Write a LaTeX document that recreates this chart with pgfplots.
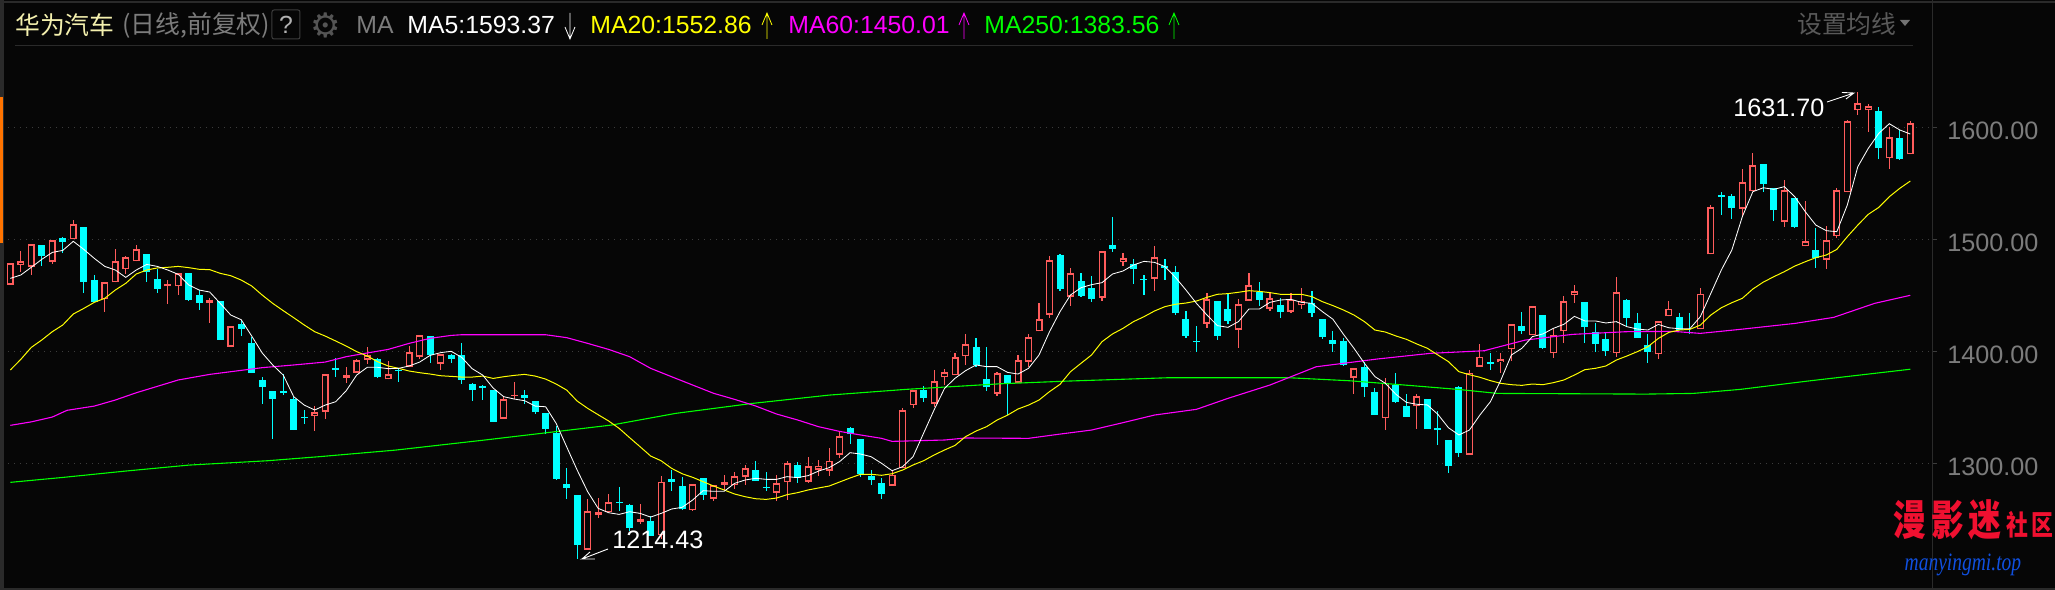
\documentclass[border=0pt]{standalone}
\usepackage{fontspec}
\usepackage{pgfplots}
\usepackage{pgfplotstable}
\pgfplotsset{compat=1.18}
\setmainfont{Liberation Sans}
\newfontfamily\cjk{Noto Sans CJK SC}
\newfontfamily\dejavu{DejaVu Sans}
\newfontfamily\wmserif{Liberation Serif}

\definecolor{bg}{HTML}{060606}
\definecolor{upc}{HTML}{FF5C5C}
\definecolor{dnc}{HTML}{00FFFF}
\definecolor{frame}{HTML}{2A2A2A}
\definecolor{gridc}{HTML}{3C3C3C}
\definecolor{labc}{HTML}{7C7C7C}
\definecolor{ma5}{HTML}{FFFFFF}
\definecolor{ma20}{HTML}{FFFF00}
\definecolor{ma60}{HTML}{FF00FF}
\definecolor{ma250}{HTML}{00FF00}
\definecolor{wmred}{HTML}{F01030}
\definecolor{wmblue}{HTML}{1050E0}

% x hi top bot lo
\pgfplotstableread{
x hi top bot lo
0 1478.5 1478.5 1459.5 1459.5
1 1489.5 1480.3 1477.3 1470.5
2 1495.5 1495.5 1475.5 1468.4
4 1499.1 1499.1 1480 1477.9
6 1517.2 1513.3 1500 1500
9 1461.6 1461.6 1446.4 1435.1
10 1491.3 1480.3 1461.6 1461.6
11 1485.1 1483.9 1473.2 1468.7
12 1494.9 1491 1480.3 1480.3
15 1463.6 1459.8 1458 1442.2
16 1469.6 1469.6 1458 1450.2
19 1447.3 1445.5 1443.4 1425.2
21 1422.3 1422.3 1404.1 1404.1
29 1351.1 1345.5 1342.5 1328.8
30 1379.4 1379.4 1346.1 1339.5
32 1386 1378.5 1376.4 1371.7
33 1392.8 1391.9 1380.9 1380.9
34 1403.8 1396.4 1392.5 1388.9
36 1391 1379.4 1375 1375
38 1404.4 1399.1 1386.3 1386.3
39 1414.2 1414.2 1395.2 1393.4
41 1397.3 1397.3 1388.9 1383.3
47 1359.5 1357.1 1339.8 1339.8
48 1372.6 1360.7 1360.1 1357.1
55 1268.1 1257.1 1222.9 1222.9
56 1269 1256.2 1254.1 1251.1
57 1272.6 1265.1 1256.5 1256.5
60 1263.6 1250 1247.9 1245.8
62 1288.7 1283.3 1236 1232
65 1281.2 1281.2 1258.3 1257.4
67 1280.3 1280.3 1268.4 1266.6
68 1289.5 1283 1280.9 1276.2
69 1292.2 1288.4 1280.6 1277
70 1298.2 1295.5 1288.1 1280.9
73 1289.5 1282.1 1273.8 1266.3
74 1302 1300 1283 1267.2
76 1305.6 1297.3 1283.6 1282.7
77 1302.9 1297.9 1294.3 1288.7
78 1313.4 1302.3 1293.4 1289
79 1328.2 1324.1 1307.7 1304.7
84 1294 1289.5 1280 1280
85 1349.4 1347.3 1295.5 1295.5
86 1365.1 1365.1 1352 1349.4
88 1383.3 1373.2 1353.2 1350.3
89 1384.2 1381.2 1376.8 1369.9
90 1398.2 1394.6 1378.5 1378.5
91 1415.4 1406.2 1395.5 1388.1
94 1381.5 1380.3 1362.2 1360.1
96 1396.7 1391.9 1372 1372
97 1415.5 1412.5 1390.8 1386.3
98 1443.1 1428.6 1417.8 1417.8
99 1485.1 1481.2 1432.7 1430
101 1474.1 1469.6 1448.8 1440.5
104 1489.3 1489.3 1447.9 1444.9
106 1487.8 1483 1480 1476.2
109 1494 1483.9 1464.9 1453.8
114 1451.8 1446.4 1424.7 1420.8
117 1446.7 1441.9 1419.3 1403
118 1469.9 1458.9 1445.2 1445.2
120 1453 1447.3 1438.1 1436
122 1451.8 1445.8 1435.4 1434.5
123 1456.5 1445.2 1441.1 1437.8
128 1384.8 1384.8 1376.5 1361.9
131 1376.2 1372 1340.2 1329.7
134 1361.9 1359.8 1350.9 1330.6
139 1383.3 1380.9 1307.7 1307.7
140 1406.5 1395.2 1386.3 1386.3
142 1398.5 1392.8 1390.2 1380.6
143 1424.1 1424.1 1401.8 1391.3
145 1440.2 1440.2 1414.3 1414.3
147 1419.6 1414.3 1398.2 1394
148 1449.4 1444.6 1417.8 1407.4
149 1459.2 1453.6 1450 1443.1
153 1466.3 1452.7 1398.2 1394.9
157 1426.7 1426.7 1397.3 1392.8
158 1444.9 1438 1431.2 1431.2
161 1456.5 1451.4 1419.6 1419.6
162 1530.6 1528.5 1486.5 1486.5
165 1562.7 1550.8 1527.3 1520.5
166 1577 1566 1542.8 1542.8
169 1552.9 1543.7 1515.7 1510.9
171 1534.2 1498.2 1493.7 1493.7
173 1511.8 1499 1481.8 1473.4
174 1545.5 1543.7 1502.9 1501.1
175 1606.5 1605.3 1541.9 1541.9
176 1631.5 1621.4 1615.1 1610.9
177 1620.8 1618.7 1615.1 1595.8
179 1599.9 1591 1572.3 1562.7
181 1605.3 1603.5 1575.8 1575.8
}\uptable

\pgfplotstableread{
x hi top bot lo
3 1494.9 1494.9 1485.1 1476.4
5 1502 1501.1 1497.6 1487.7
7 1511 1511 1462.2 1452
8 1468.1 1463.6 1444 1444
13 1486.9 1486.9 1470.5 1461.9
14 1473.5 1464.5 1455.9 1452
17 1469.9 1469.9 1445.8 1444.9
18 1454.7 1450.2 1443.4 1436.9
20 1444.9 1444.9 1410.1 1410.1
22 1427.9 1424.4 1419.9 1413.6
23 1412.7 1407.4 1380.6 1380.6
24 1377 1374.4 1368.1 1352.9
25 1364.5 1364.5 1357.4 1321.7
26 1379.4 1364.5 1362.7 1361
27 1359.5 1357.4 1329.7 1329.7
28 1347.6 1341 1340.4 1335.1
31 1393.7 1385.1 1383.6 1377
35 1393.7 1393.1 1376.7 1376.1
37 1384.8 1383.3 1382.4 1372.6
40 1413.6 1413.6 1396.7 1389.8
42 1397.3 1396.4 1393.1 1389.8
43 1407.1 1396.7 1374.7 1370.8
44 1371.4 1370.8 1365.4 1355.6
45 1369.9 1369 1367.2 1356.5
46 1365.4 1365.4 1336.9 1336.9
49 1365.4 1361 1358.3 1352.9
50 1355.6 1355.6 1345.8 1344
51 1344.9 1344.9 1330.6 1326.4
52 1333.3 1327 1286 1285.1
53 1295.8 1281.5 1277.9 1268.1
54 1271.7 1271.7 1227 1214.5
58 1278.8 1265.4 1264.5 1257.4
59 1263.4 1262.7 1242.2 1239.5
61 1252.9 1248.5 1235.1 1235.1
63 1294 1286 1283.6 1275.3
64 1287.8 1279.7 1259.5 1258.3
66 1286.9 1286.9 1272 1267.2
71 1302 1293.7 1284.2 1284.2
72 1292.2 1278.8 1278.2 1275.3
75 1300.9 1298.2 1286.9 1282.7
80 1332.4 1331.2 1326.5 1317.2
81 1321.7 1321.7 1290.4 1288.1
82 1294 1288.4 1285.1 1280.6
83 1286.9 1282.4 1272.6 1268.1
87 1369 1365.4 1358.6 1354.7
92 1411.9 1403.8 1387.5 1385.7
93 1403.8 1375.3 1367.8 1364.8
95 1378.8 1378.8 1371.4 1343.1
100 1486.9 1486 1455.6 1453.8
102 1469.6 1462.8 1449.4 1448.5
103 1467.2 1456.5 1446.7 1444
105 1519.9 1494.9 1491.3 1488.7
107 1482.4 1477.7 1473.5 1460.1
108 1468.1 1464.6 1463.7 1450.3
110 1482.4 1476.5 1474.7 1463.7
111 1476.2 1470.8 1433.9 1432.7
112 1436 1428.8 1413.7 1411.9
113 1422.6 1409.2 1408.3 1399.4
115 1444.9 1444.9 1413.7 1410.1
116 1451.2 1437.8 1427.1 1424.4
119 1461.9 1453 1445.8 1440.5
121 1447.6 1441.3 1435.1 1429.7
124 1453.8 1443.1 1434.2 1430.6
125 1428.8 1428.8 1412.8 1411.3
126 1418.1 1410.1 1406.8 1399.4
127 1411.9 1409.2 1388.1 1387.2
129 1390.5 1386 1368.1 1359.2
130 1367.2 1363.7 1343.1 1343.1
132 1380.6 1369.9 1354.7 1353.8
133 1361.9 1351.2 1341.3 1341.3
135 1357.4 1357.4 1330.6 1330.6
136 1346.7 1331.5 1329.7 1316.3
137 1320.8 1320.8 1297.6 1291.3
138 1369 1368.1 1309.2 1305.6
141 1398.5 1390.5 1388.7 1383.3
144 1435.1 1422.6 1418.1 1415.5
146 1432.4 1432.4 1403 1402.1
150 1444 1444 1421.7 1407.4
151 1425.3 1417.2 1406.5 1399.4
152 1417.2 1411 1400.3 1395.8
154 1446.7 1445.8 1429.7 1421.7
155 1434.2 1425.3 1411.9 1411.9
156 1415.5 1405.6 1399.4 1389.6
159 1433.9 1430.3 1419 1419
160 1433.9 1417.5 1416 1415.4
163 1542.2 1539.5 1537.7 1521.7
164 1540.4 1538.6 1527.9 1518.1
167 1567.2 1567.2 1549.3 1542.2
168 1545.8 1545.8 1526.1 1516.3
170 1536.8 1536.8 1510.9 1510.1
172 1510.1 1490.4 1483.3 1474.3
178 1617.8 1614.2 1581.8 1571.7
180 1597.6 1590.1 1571.7 1570.5
}\dntable

\begin{document}
\begin{tikzpicture}[line cap=butt]
  \fill[bg] (0,0) rectangle (1027.5bp,295bp);
  \useasboundingbox (0,0) rectangle (1027.5bp,295bp);

  \begin{axis}[
    at={(4bp,0bp)}, anchor=south west,
    scale only axis,
    width=962bp, height=295bp,
    xmin=-0.219, xmax=183.07,
    ymin=1186.9, ymax=1713.66,
    axis x line=none,
    axis y line=right,
    axis line style={draw=frame,-,line width=0.5bp},
    ytick={1300,1400,1500,1600},
    ymajorgrids,
    major grid style={draw=gridc,line width=0.45bp,dash pattern=on 0.7bp off 2.3bp},
    tick align=outside,
    major tick length=2.5bp,
    tick style={draw=gridc,line width=0.45bp},
    yticklabel style={font=\fontsize{12.6bp}{15bp}\selectfont,text=labc,xshift=5bp,yshift=-2bp,inner sep=0pt,anchor=west},
    /pgf/number format/.cd,fixed,fixed zerofill,precision=2,1000 sep={},assume math mode=true,
    /pgfplots/.cd,
    clip=false,
  ]
    % wicks
    \addplot[draw=none,mark=none,forget plot,error bars/.cd,y dir=both,y explicit,error mark=none,
      error bar style={draw=upc,line width=0.55bp}]
      table[x=x,y=bot,y error plus expr=\thisrow{hi}-\thisrow{bot},y error minus expr=\thisrow{bot}-\thisrow{lo}]{\uptable};
    \addplot[draw=none,mark=none,forget plot,error bars/.cd,y dir=both,y explicit,error mark=none,
      error bar style={draw=dnc,line width=0.55bp}]
      table[x=x,y=bot,y error plus expr=\thisrow{hi}-\thisrow{bot},y error minus expr=\thisrow{bot}-\thisrow{lo}]{\dntable};
    % bodies
    \addplot[draw=none,mark=none,forget plot,error bars/.cd,y dir=plus,y explicit,error mark=none,
      error bar style={draw=dnc,line width=3.5bp}]
      table[x=x,y=bot,y error plus expr=\thisrow{top}-\thisrow{bot}]{\dntable};
    \addplot[draw=none,mark=none,forget plot,error bars/.cd,y dir=plus,y explicit,error mark=none,
      error bar style={draw=upc,line width=3.5bp}]
      table[x=x,y=bot,y error plus expr=\thisrow{top}-\thisrow{bot}]{\uptable};
    \addplot[draw=none,mark=none,forget plot,error bars/.cd,y dir=plus,y explicit,error mark=none,
      error bar style={draw=bg,line width=2.2bp}]
      table[x=x,y expr=\thisrow{bot}+1.16,y error plus expr={max(\thisrow{top}-\thisrow{bot}-2.32,0)}]{\uptable};

    % MA250
    \addplot[ma250,line width=0.55bp] coordinates {
      (0,1283) (5,1287.4) (11,1293.1) (17,1298.4) (24.5,1302.3) (29.4,1305.9) (36.7,1311.8)
      (45.2,1320.8) (51.9,1328.2) (57.3,1334.2) (63.4,1344.6) (70.7,1353.5) (78,1360.9)
      (85.3,1366) (94.3,1371) (100.7,1373.4) (110.3,1376.4) (121.8,1376.4) (127.6,1373.7)
      (132.8,1369.9) (137.9,1366) (141.7,1362.4) (155.8,1361.8) (160.3,1362.4) (164.8,1366)
      (171.2,1373.4) (181,1384)
    };
    % MA60
    \addplot[ma60,line width=0.55bp] coordinates {
      (0,1333.9) (2,1337) (4,1341.3) (5.4,1347.3) (8,1351.1) (10,1356.5) (12,1363) (16,1374.4)
      (19,1379.4) (22,1383) (24,1385.4) (27,1387.8) (30,1390.4) (32,1395.2) (34,1398.5)
      (36,1401.7) (38,1407.1) (40,1411.6) (42,1414.2) (43,1414.8) (51,1414.8) (53,1412.2)
      (55,1407.1) (57,1401.7) (59,1395.2) (61,1384.8) (63,1377.3) (65,1369.9) (67,1362.5)
      (69,1357.1) (71,1351.2) (73,1344) (75,1338.7) (77,1332.7) (79,1328.5) (81,1325.3)
      (83,1322.3) (84,1319.6) (89,1320.8) (91,1322.6) (97,1322.3) (100,1326.1) (103,1329.7)
      (106,1336.3) (109,1343.1) (113,1348.2) (116,1358) (120,1369.9) (124.4,1386.2)
      (130.2,1393.1) (135.3,1398.2) (140.4,1400.5) (144.3,1410) (148.8,1415.1) (153.9,1417.5)
      (158.4,1417.8) (161,1416) (164.8,1419.6) (170,1424.9) (173.7,1430.3) (177.6,1442.8) (181,1450)
    };
    % MA20
    \addplot[ma20,line width=0.5bp] coordinates {
      (0,1383.3) (1,1392.8) (2,1403.5) (3,1410.1) (4,1417.5) (5,1423.5) (6,1433.3) (7,1438.3)
      (8,1443.7) (9,1447.3) (10,1454.7) (11,1460.7) (12,1469) (13,1472.6) (14,1474.4) (15,1475)
      (16,1475.8) (17,1474.7) (18,1473.2) (19,1472.9) (20,1469.6) (21,1467.5) (22,1463.6)
      (23,1458.3) (24,1450.2) (25,1442.8) (26,1436.3) (27,1430) (28,1423.5) (29,1417.5)
      (30,1413.6) (31,1409.2) (32,1404.7) (33,1399.7) (34,1395.8) (35,1390.7) (36,1386.9)
      (37,1384.8) (38,1382.4) (39,1380.9) (40,1379.7) (41,1378.2) (42,1377.6) (43,1377)
      (44,1377) (45,1377.9) (46,1375.8) (47,1377.3) (48,1378.5) (49,1379.4) (50,1377.9)
      (51,1375.2) (52,1370.8) (53,1365.4) (54,1355.6) (55,1349.1) (56,1343.4) (57,1337.8)
      (58,1331.2) (59,1322.9) (60,1314.8) (61,1306.5) (62,1302.3) (63,1295.5) (64,1290.7)
      (65,1287.5) (66,1283.6) (67,1279.7) (68,1276.2) (69,1272.6) (70,1270.2) (71,1268.4)
      (72,1267.8) (73,1269) (74,1272) (75,1273.8) (76,1276.2) (77,1278) (78,1279.7) (79,1283.3)
      (80,1286.9) (81,1290.2) (82,1290.2) (83,1289.3) (84,1290.7) (85,1294) (86,1298.5)
      (87,1302.3) (88,1307.4) (89,1311.9) (90,1316) (91,1323.8) (92,1328.8) (93,1332.7)
      (94,1338.6) (95,1343) (96,1348.5) (97,1352) (98,1356.5) (99,1364) (100,1370.5) (101,1381.8)
      (102,1389.3) (103,1396.7) (104,1408.6) (105,1415.5) (106,1420.5) (107,1426.5) (108,1430.9)
      (109,1436) (110,1439.9) (111,1442) (112,1443.1) (113,1444.9) (114,1448.2) (115,1450.9)
      (116,1451.5) (117,1452.7) (118,1454.1) (119,1453.5) (120,1452.4) (121,1450.9) (122,1450.9)
      (123,1450.9) (124,1448.8) (125,1444.3) (126,1440.8) (127,1436.9) (128,1432.4) (129,1426.5)
      (130,1419) (131,1417.2) (132,1413.7) (133,1410.7) (134,1406.5) (135,1402.7) (136,1396.7)
      (137,1390.8) (138,1381.8) (139,1379.1) (140,1376.8) (141,1373.8) (142,1371.4) (143,1370.2)
      (144,1369.6) (145,1370.8) (146,1370.2) (147,1372) (148,1374.4) (149,1378.8) (150,1383.6)
      (151,1384.8) (152,1386.9) (153,1392.2) (154,1395.8) (155,1399.7) (156,1404.1) (157,1411.5)
      (158,1416.9) (159,1419) (160,1419.6) (161,1423.4) (162,1432.4) (163,1438.9) (164,1443.4)
      (165,1447.3) (166,1455.6) (167,1461.8) (168,1466.6) (169,1471.1) (170,1476.1) (171,1480)
      (172,1483.6) (173,1486) (174,1491) (175,1502.3) (176,1512.7) (177,1522.3) (178,1528.5)
      (179,1538) (180,1545.5) (181,1552)
    };
    % MA5
    \addplot[ma5,line width=0.42bp] coordinates {
      (0,1465.1) (1,1468.1) (2,1475) (3,1482.1) (4,1488.3) (5,1490.1) (6,1498.2) (7,1491) (8,1483)
      (9,1475.8) (10,1472.6) (11,1466) (12,1472.6) (13,1477.6) (14,1475.8) (15,1472.6) (16,1468.7)
      (17,1459.2) (18,1454.7) (19,1452.9) (20,1442.8) (21,1432.4) (22,1428.2) (23,1413.6)
      (24,1398.5) (25,1387.8) (26,1378.8) (27,1359.5) (28,1352) (29,1347.6) (30,1352) (31,1355)
      (32,1364.8) (33,1378.8) (34,1385.7) (35,1385.7) (36,1384.5) (37,1384.8) (38,1386.9)
      (39,1390.4) (40,1396.4) (41,1398.8) (42,1400) (43,1394.6) (44,1384.5) (45,1378.8) (46,1367.2)
      (47,1359.5) (48,1357.4) (49,1355.9) (50,1351.1) (51,1350.5) (52,1335.7) (53,1314.8) (54,1294)
      (55,1274.7) (56,1259.8) (57,1255.9) (58,1254.4) (59,1256.8) (60,1255.3) (61,1252) (62,1255.3)
      (63,1259.2) (64,1260.7) (65,1267.2) (66,1275.6) (67,1275) (68,1275) (69,1282.1) (70,1285.1)
      (71,1286.6) (72,1285.7) (73,1285.7) (74,1288.1) (75,1287.2) (76,1289) (77,1293.1) (78,1296.1)
      (79,1301.5) (80,1309.5) (81,1308.3) (82,1305.9) (83,1300) (84,1293.4) (85,1297) (86,1305.9)
      (87,1326.8) (88,1347.6) (89,1366.9) (90,1375.9) (91,1382.7) (92,1387.8) (93,1386.3) (94,1386.3)
      (95,1381.2) (96,1379.7) (97,1384.8) (98,1396.7) (99,1417.5) (100,1435.4) (101,1450.3)
      (102,1456.8) (103,1459.5) (104,1461.3) (105,1469) (106,1471.7) (107,1477.1) (108,1480.3)
      (109,1479.4) (110,1475.6) (111,1466) (112,1454.7) (113,1442.8) (114,1432.4) (115,1422.9)
      (116,1421.4) (117,1426.5) (118,1437.8) (119,1437.8) (120,1443.7) (121,1445.8) (122,1446.4)
      (123,1443.7) (124,1442.8) (125,1435.4) (126,1428.6) (127,1415.2) (128,1402.7) (129,1389.3)
      (130,1377.4) (131,1371.4) (132,1361.6) (133,1354.4) (134,1352.7) (135,1352.1) (136,1343.7)
      (137,1331.8) (138,1325.3) (139,1329.7) (140,1343.1) (141,1355) (142,1374.4) (143,1396.7)
      (144,1402.7) (145,1413.1) (146,1415.5) (147,1420.5) (148,1424.1) (149,1431.2) (150,1427.1)
      (151,1427.1) (152,1425.3) (153,1426.5) (154,1422) (155,1419.9) (156,1419) (157,1424) (158,1421)
      (159,1420.2) (160,1420.2) (161,1430.9) (162,1451.7) (163,1472.6) (164,1490.4) (165,1520.2)
      (166,1542.5) (167,1546) (168,1544.6) (169,1547) (170,1538) (171,1524.6) (172,1512.7)
      (173,1507.7) (174,1506.8) (175,1530.6) (176,1564.8) (177,1581.2) (178,1594.6) (179,1603.2)
      (180,1597.6) (181,1594)
    };
  \end{axis}

  \begin{scope}[x=0.5bp,y=-0.5bp,yshift=295bp]
  % frame of the window
  \draw[frame,line width=1bp] (0,2.5) -- (2055,2.5);
  \draw[frame,line width=1bp] (0,589) -- (2055,589);
  \draw[frame,line width=2bp] (2,0) -- (2,590);
  \draw[orange!90!red,line width=1.6bp] (1.5,97) -- (1.5,243);
  \draw[frame,line width=0.5bp] (15,46) -- (1913,46);

  % header
  \begin{scope}[every node/.style={inner sep=0pt,anchor=west,font=\fontsize{12.4bp}{15bp}\selectfont}]
    \node[text=yellow!30!white!95!black] at (15,25) {\cjk 华为汽车};
    \node[text=labc] at (122,25) {\cjk (日线,前复权)};
    \draw[gridc,line width=0.5bp,rounded corners=1bp] (272,10) rectangle (300,39);
    \node[text=white!70!black,anchor=center] at (286,25) {?};
    \node[text=white!33!black,anchor=center,font=\dejavu\fontsize{17bp}{17bp}\selectfont] at (326,25) {⚙};
    \node[text=labc] at (356,25) {MA};
    \node[text=ma5] at (407,25) {MA5:1593.37};
    \node[text=ma20] at (590,25) {MA20:1552.86};
    \node[text=ma60] at (788,25) {MA60:1450.01};
    \node[text=ma250] at (984,25) {MA250:1383.56};
    \node[text=white!35!black] at (1797,24) {\cjk 设置均线};
  \end{scope}
  \fill[white!45!black] (1900,20) -- (1910,20) -- (1905,26) -- cycle;

  % trend arrows
  \draw[ma5,line width=0.4bp] (570,13) -- (570,39) (565,27) -- (570,39) -- (575,27);
  \draw[ma20,line width=0.4bp] (767,39) -- (767,13) (762,25) -- (767,13) -- (772,25);
  \draw[ma60,line width=0.4bp] (964,39) -- (964,13) (959,25) -- (964,13) -- (969,25);
  \draw[ma250,line width=0.4bp] (1174,39) -- (1174,13) (1169,25) -- (1174,13) -- (1179,25);

  % extreme labels
  \node[inner sep=0pt,anchor=west,text=white,font=\fontsize{12.6bp}{15bp}\selectfont] at (1733,108) {1631.70};
  \draw[white,line width=0.45bp] (1827,102) -- (1854,93) (1842,92.5) -- (1854,93) -- (1846,99);
  \node[inner sep=0pt,anchor=west,text=white,font=\fontsize{12.6bp}{15bp}\selectfont] at (612,540) {1214.43};
  \draw[white,line width=0.45bp] (608,549) -- (582,559) -- (595,559) (582,559) -- (590,552);

  % watermark
  \begin{scope}[every node/.style={inner sep=0pt,anchor=center,text=wmred,xscale=0.78}]
    \node[font=\cjk\bfseries\fontsize{21bp}{21bp}\selectfont] at (1910,520) {漫};
    \node[font=\cjk\bfseries\fontsize{21bp}{21bp}\selectfont] at (1948,520) {影};
    \node[font=\cjk\bfseries\fontsize{21bp}{21bp}\selectfont] at (1985,520) {迷};
    \node[font=\cjk\bfseries\fontsize{14bp}{14bp}\selectfont] at (2017,525) {社};
    \node[font=\cjk\bfseries\fontsize{14bp}{14bp}\selectfont] at (2042,525) {区};
  \end{scope}
  \node[inner sep=0pt,anchor=center,text=wmblue,xscale=0.78,font=\wmserif\itshape\fontsize{12.5bp}{13bp}\selectfont] at (1963,565) {manyingmi.top};
  \end{scope}
\end{tikzpicture}
\end{document}
